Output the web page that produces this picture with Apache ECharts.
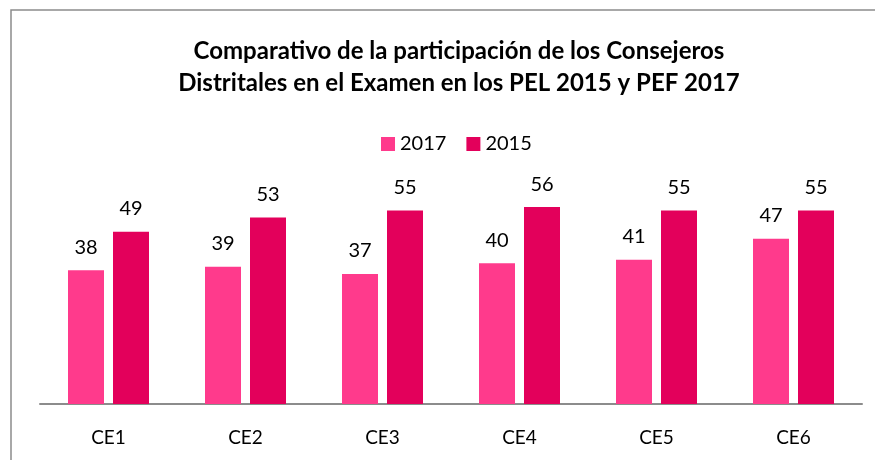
<!DOCTYPE html>
<html>
<head>
<meta charset="utf-8">
<script src="https://cdn.jsdelivr.net/npm/echarts@6/dist/echarts.min.js"></script>
<style>
  html, body { margin: 0; padding: 0; background: #fff; }
  #chart { width: 875px; height: 460px; }
</style>
</head>
<body>
<div id="chart"></div>
<script>
var categories = ['CE1', 'CE2', 'CE3', 'CE4', 'CE5', 'CE6'];
var values2017 = [38, 39, 37, 40, 41, 47];
var values2015 = [49, 53, 55, 56, 55, 55];

var chart = echarts.init(document.getElementById('chart'));
var font = 'Lato, "Open Sans", sans-serif';

var labelStyle = {
    show: true,
    position: 'top',
    distance: 13,
    color: '#000',
    fontSize: 20,
    fontFamily: font
};

chart.setOption({
    animation: false,
    title: {
        text: 'Comparativo de la participación de los Consejeros\nDistritales en el Examen en los PEL 2015 y PEF 2017',
        left: 454,
        textAlign: 'center',
        top: 30,
        textStyle: {
            fontFamily: font,
            fontSize: 24,
            fontWeight: 'bold',
            color: '#000',
            lineHeight: 32
        }
    },
    legend: {
        top: 129,
        left: 376,
        itemWidth: 14,
        itemHeight: 14,
        itemGap: 20,
        icon: 'rect',
        textStyle: { fontFamily: font, fontSize: 20, color: '#000' },
        data: ['2017', '2015']
    },
    graphic: [{
        type: 'rect',
        shape: { x: 11, y: 10, width: 900, height: 500 },
        style: { fill: 'none', stroke: '#8c8c8c', lineWidth: 1.5 }
    }],
    grid: { left: 40, right: 13, top: 193, bottom: 56 },
    xAxis: {
        type: 'category',
        data: categories,
        axisLine: { lineStyle: { color: '#8c8c8c', width: 2 } },
        axisTick: { show: false },
        axisLabel: { color: '#000', fontSize: 19, fontFamily: font, margin: 24 }
    },
    yAxis: {
        type: 'value',
        min: 0,
        max: 60,
        show: false,
        splitLine: { show: false }
    },
    series: [{
        name: '2017',
        type: 'bar',
        data: values2017,
        barWidth: 36,
        barGap: '25%',
        itemStyle: { color: '#FF3A8C' },
        label: labelStyle
    }, {
        name: '2015',
        type: 'bar',
        data: values2015,
        barWidth: 36,
        itemStyle: { color: '#E3005B' },
        label: labelStyle
    }]
});
</script>
</body>
</html>
